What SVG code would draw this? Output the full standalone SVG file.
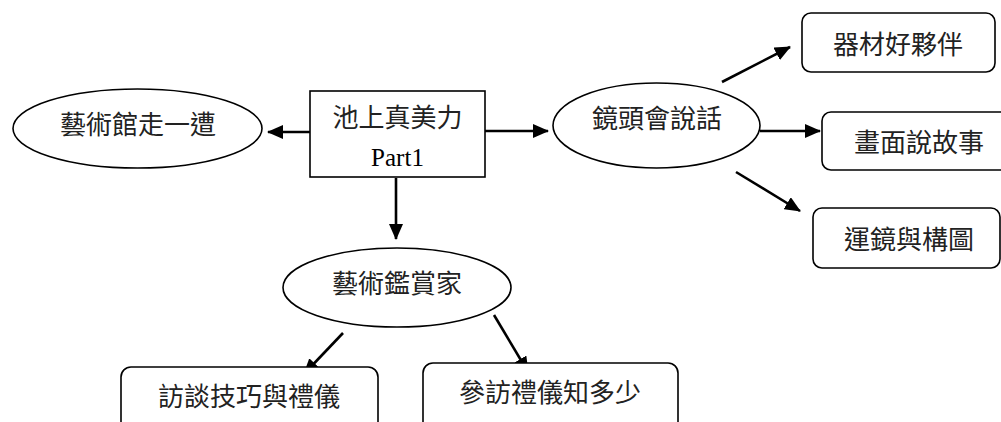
<svg xmlns="http://www.w3.org/2000/svg" width="1001" height="422" viewBox="0 0 1001 422">
<style>
.shape{fill:#fff;stroke:#000;stroke-width:1.6}
.t{font-family:"Noto Sans CJK TC","Noto Sans CJK SC",sans-serif;font-size:26px;fill:#222;text-anchor:middle}
.p{font-family:"Liberation Serif",serif;font-size:25px;fill:#000;text-anchor:middle}
.c{stroke:#000;stroke-width:2.6;fill:none;marker-end:url(#ah)}
</style>
<defs>
<marker id="ah" markerUnits="userSpaceOnUse" markerWidth="16" markerHeight="14" refX="15" refY="7" orient="auto">
<path d="M0,0 L16,7 L0,14 z" fill="#000"/>
</marker>
</defs>
<rect width="1001" height="422" fill="#fff"/>
<g id="connectors">
<line class="c" x1="310" y1="132" x2="268" y2="132"/>
<line class="c" x1="485" y1="131" x2="548" y2="131"/>
<line class="c" x1="396" y1="178" x2="396" y2="239"/>
<line class="c" x1="722" y1="82" x2="790" y2="47"/>
<line class="c" x1="760" y1="131" x2="820" y2="131"/>
<line class="c" x1="736" y1="172" x2="800" y2="211"/>
<line class="c" x1="343" y1="333" x2="304" y2="374"/>
<line class="c" x1="494" y1="315" x2="528" y2="372"/>
</g>
<g id="center">
<rect class="shape" x="310" y="91" width="175" height="86"/>
<text class="t" x="397.5" y="127">池上真美力</text>
<text class="p" x="397.5" y="166">Part1</text>
</g>
<g id="museum">
<ellipse class="shape" cx="137.5" cy="128.5" rx="124.5" ry="39.5"/>
<text class="t" x="138" y="134">藝術館走一遭</text>
</g>
<g id="lens">
<ellipse class="shape" cx="656.5" cy="125.5" rx="103.5" ry="42.5"/>
<text class="t" x="657" y="128">鏡頭會說話</text>
</g>
<g id="equipment">
<rect class="shape" x="802" y="13" width="193" height="59" rx="9"/>
<text class="t" x="898" y="54">器材好夥伴</text>
</g>
<g id="story">
<rect class="shape" x="822" y="112" width="195" height="58" rx="9"/>
<text class="t" x="919" y="152">畫面說故事</text>
</g>
<g id="composition">
<rect class="shape" x="813" y="208" width="187" height="60" rx="9"/>
<text class="t" x="909" y="249">運鏡與構圖</text>
</g>
<g id="appreciation">
<ellipse class="shape" cx="397" cy="287.5" rx="114" ry="39.5"/>
<text class="t" x="397" y="293">藝術鑑賞家</text>
</g>
<g id="interview">
<rect class="shape" x="121" y="367" width="257" height="70" rx="10"/>
<text class="t" x="249" y="406">訪談技巧與禮儀</text>
</g>
<g id="visit">
<rect class="shape" x="423" y="363" width="255" height="70" rx="10"/>
<text class="t" x="550" y="402">參訪禮儀知多少</text>
</g>
</svg>
